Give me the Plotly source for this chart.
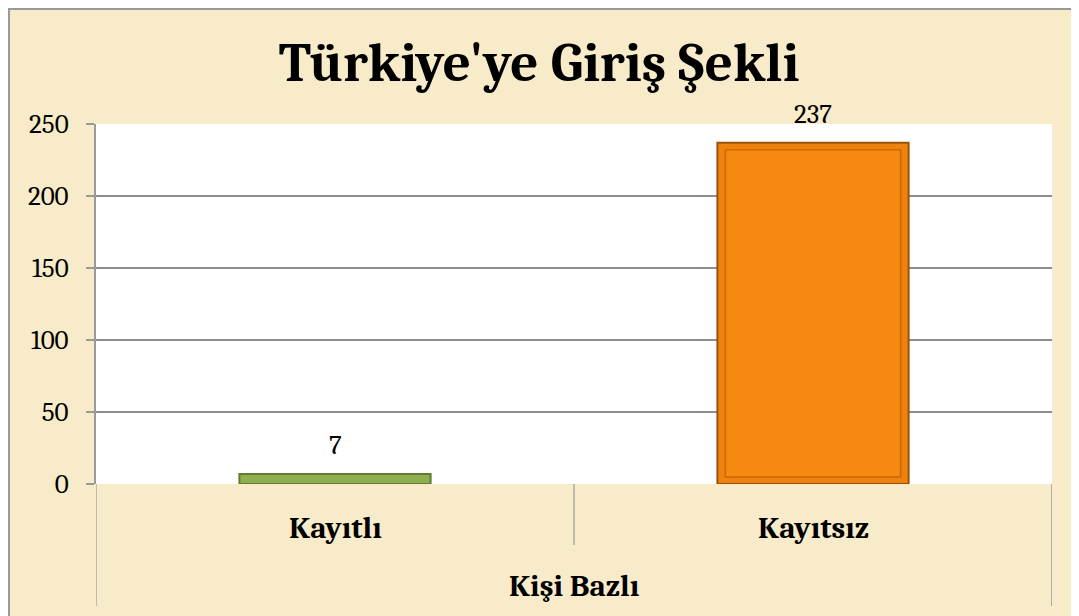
import plotly.graph_objects as go

categories = ["Kayıtlı", "Kayıtsız"]
values = [7, 237]
group_label = "Kişi Bazlı"
title_text = "Türkiye'ye Giriş Şekli"
y_ticks = [0, 50, 100, 150, 200, 250]

fill_colors = ["#8fae4f", "#ef810c"]
edge_colors = ["#5f7d33", "#9a5408"]
face_colors = ["#93b353", "#f6890f"]
face_edges = ["#7f9c45", "#c76b08"]

# the page body adds an 8px margin; figure coords are page coords minus 8
OFF = 8
W, H = 1079 - OFF, 616 - OFF
L, R, T, B = 96 - OFF, 27, 124 - OFF, 132
pw = W - L - R
ph = H - T - B

def py(p):
    """page-pixel y -> paper y"""
    return (H - B - (p - OFF)) / ph

def px(p):
    return (p - OFF - L) / pw

SERIF = "Cambria, Caladea, 'DejaVu Serif', 'Liberation Serif', serif"

y_max = 250
inset = 7 * y_max / ph  # bevel inset in data units (~7 px)
bar_w = 0.40
face_w = bar_w - 2 * 8 / (pw / 2)

fig = go.Figure()
fig.add_trace(go.Bar(
    x=[0, 1], y=values, width=bar_w,
    marker=dict(color=fill_colors, line=dict(color=edge_colors, width=2)),
    showlegend=False, hoverinfo="skip",
))
face_h = [max(v - 2 * inset, 0) for v in values]
fig.add_trace(go.Bar(
    x=[0, 1], y=face_h, base=[inset if h > 0 else 0 for h in face_h], width=face_w,
    marker=dict(color=face_colors, line=dict(color=face_edges, width=[0 if h == 0 else 1.5 for h in face_h])),
    showlegend=False, hoverinfo="skip",
))

shapes = []
# outer frame (left and top edges)
shapes.append(dict(type="line", xref="paper", yref="paper", x0=px(9), x1=px(9),
                   y0=py(3), y1=py(640), line=dict(color="#9a9a9a", width=2)))
shapes.append(dict(type="line", xref="paper", yref="paper", x0=px(8), x1=px(1100),
                   y0=py(9), y1=py(9), line=dict(color="#9a9a9a", width=2)))
# category dividers
shapes.append(dict(type="line", xref="x", yref="paper", x0=0.5, x1=0.5,
                   y0=0, y1=py(545), line=dict(color="#9a9a9a", width=1.2)))
shapes.append(dict(type="line", xref="x", yref="paper", x0=-0.5, x1=-0.5,
                   y0=0, y1=py(606), line=dict(color="#9a9a9a", width=1.2)))
shapes.append(dict(type="line", xref="x", yref="paper", x0=1.5, x1=1.5,
                   y0=0, y1=py(606), line=dict(color="#9a9a9a", width=1.5)))

annotations = []
for i, (c, v) in enumerate(zip(categories, values)):
    annotations.append(dict(x=i, y=py(528), xref="x", yref="paper", yanchor="middle",
                            text="<b>" + c + "</b>", showarrow=False,
                            font=dict(family=SERIF, size=31, color="#000000")))
    annotations.append(dict(x=i, y=v, xref="x", yref="y", text=str(v), yanchor="bottom",
                            yshift=11, showarrow=False,
                            font=dict(family=SERIF, size=27, color="#000000")))
annotations.append(dict(x=0.5, y=py(586), xref="x", yref="paper", yanchor="middle",
                        text="<b>" + group_label + "</b>", showarrow=False,
                        font=dict(family=SERIF, size=31, color="#000000")))

fig.update_layout(
    width=W, height=H,
    margin=dict(l=L, r=R, t=T, b=B),
    paper_bgcolor="#f8ebc9",
    plot_bgcolor="#ffffff",
    barmode="overlay",
    title=dict(text="<b>" + title_text + "</b>", xref="container", x=(539 - OFF) / W, xanchor="center",
               yref="container", y=1 - (62 - OFF) / H, yanchor="middle",
               font=dict(family=SERIF, size=55, color="#000000")),
    xaxis=dict(range=[-0.5, 1.5], showticklabels=False, showgrid=False, zeroline=False,
               ticks="", showline=False, fixedrange=True),
    yaxis=dict(range=[0, y_max], tickvals=y_ticks, showgrid=True, gridcolor="#8c8c8c", gridwidth=1.5,
               zeroline=False, showline=True, linecolor="#9a9a9a", linewidth=2,
               ticks="outside", ticklen=8, tickcolor="#9a9a9a", tickwidth=1.5,
               tickfont=dict(family=SERIF, size=27, color="#000000"), ticklabelstandoff=12),
    shapes=shapes,
    annotations=annotations,
)

fig.write_html("out.html")
